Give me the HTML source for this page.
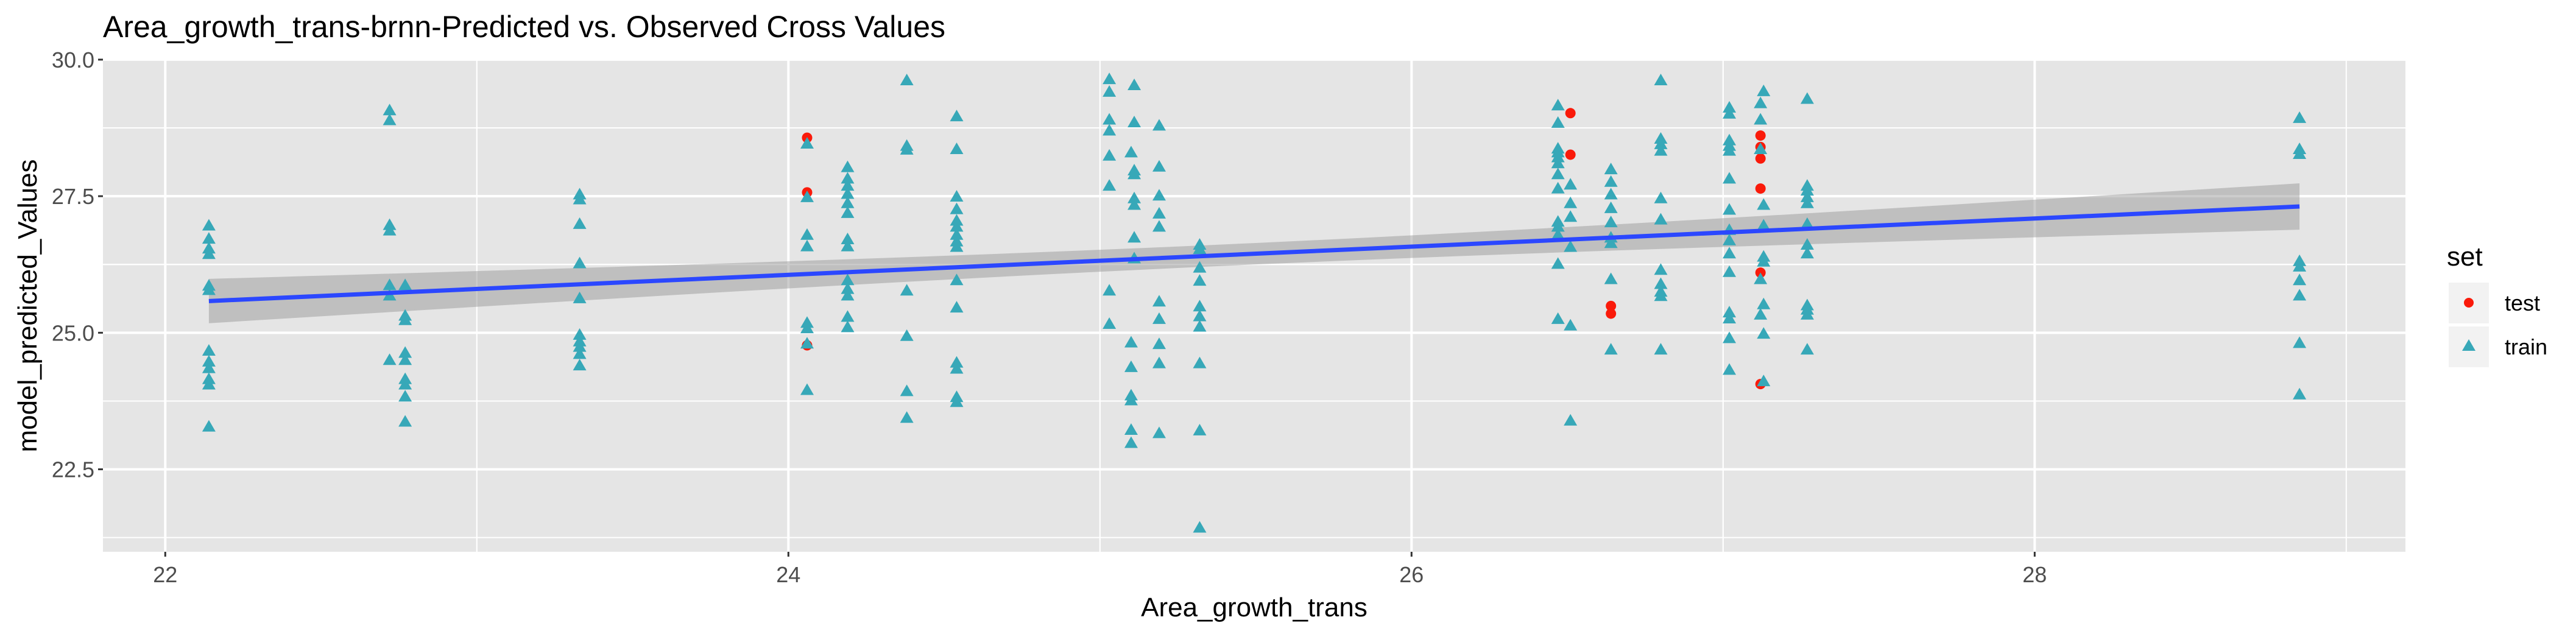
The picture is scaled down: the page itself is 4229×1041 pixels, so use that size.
<!DOCTYPE html>
<html><head><meta charset="utf-8"><style>
html,body{margin:0;padding:0;background:#fff;}
svg{display:block;font-family:"Liberation Sans",Arial,sans-serif;}
</style></head><body>
<svg id="chart" width="4229" height="1041" viewBox="0 0 4229 1041" xmlns="http://www.w3.org/2000/svg">
<text x="169" y="61" font-size="50" fill="#000">Area_growth_trans-brnn-Predicted vs. Observed Cross Values</text>
<rect x="169" y="97" width="3780" height="809" fill="#e5e5e5"/>
<g id="grid"></g>
<g id="band"></g>
<g id="pts"></g>
<g id="fit"></g>
<g id="axes"></g>
<text x="2059" y="1012" font-size="44" text-anchor="middle" fill="#000">Area_growth_trans</text>
<text transform="translate(60,502) rotate(-90)" font-size="44" text-anchor="middle" fill="#000">model_predicted_Values</text>
<g>
<text x="4017" y="436" font-size="44" fill="#000">set</text>
<rect x="4020" y="464" width="66" height="67" fill="#f2f2f2"/>
<circle cx="4053" cy="497" r="8" fill="#fa1a0a"/>
<text x="4112" y="510" font-size="36" fill="#000">test</text>
<rect x="4020" y="536" width="66" height="67" fill="#f2f2f2"/>
<polygon points="4053,557 4064,576 4042,576" fill="#37a8b8"/>
<text x="4112" y="582" font-size="36" fill="#000">train</text>
</g>
</svg>
<script>
const xTicks = [22, 24, 26, 28];
const yTicks = [22.5, 25.0, 27.5, 30.0];
const yTickLabels = ["22.5", "25.0", "27.5", "30.0"];
const fitX = [22.14, 28.85];
const fitIntercept = 25.58;
const fitSlope = 0.258;
const bandHalfAtMean = 0.196;
const bandCurv = 0.0119;
const bandMeanX = 25.4;
const testX = [24.06,24.06,24.06,26.51,26.51,26.64,26.64,27.12,27.12,27.12,27.12,27.12,27.12];
const testY = [28.57,27.57,24.77,29.02,28.26,25.49,25.35,28.61,28.40,28.19,27.64,26.10,24.06];
const trainX = [
22.14,22.14,22.14,22.14,22.14,22.14,22.14,22.14,22.14,22.14,22.14,22.14,
22.72,22.72,22.72,22.72,22.72,22.72,22.72,
22.77,22.77,22.77,22.77,22.77,22.77,22.77,22.77,22.77,
23.33,23.33,23.33,23.33,23.33,23.33,23.33,23.33,23.33,23.33,
24.06,24.06,24.06,24.06,24.06,24.06,24.06,24.06,
24.19,24.19,24.19,24.19,24.19,24.19,24.19,24.19,24.19,24.19,24.19,24.19,24.19,
24.38,24.38,24.38,24.38,24.38,24.38,24.38,
24.54,24.54,24.54,24.54,24.54,24.54,24.54,24.54,24.54,24.54,24.54,24.54,24.54,24.54,24.54,
25.03,25.03,25.03,25.03,25.03,25.03,25.03,25.03,
25.11,25.11,25.10,25.11,25.11,25.11,25.11,25.11,25.11,25.10,25.10,25.10,25.10,25.10,25.10,
25.19,25.19,25.19,25.19,25.19,25.19,25.19,25.19,25.19,25.19,
25.32,25.32,25.32,25.32,25.32,25.32,25.32,25.32,25.32,25.32,
26.47,26.47,26.47,26.47,26.47,26.47,26.47,26.47,26.47,26.47,26.47,26.47,26.47,
26.51,26.51,26.51,26.51,26.51,26.51,
26.64,26.64,26.64,26.64,26.64,26.64,26.64,26.64,26.64,
26.80,26.80,26.80,26.80,26.80,26.80,26.80,26.80,26.80,26.80,26.80,
27.02,27.02,27.02,27.02,27.02,27.02,27.02,27.02,27.02,27.02,27.02,27.02,27.02,27.02,27.02,
27.12,27.12,27.12,27.12,27.12,
27.13,27.13,27.13,27.13,27.13,27.13,27.13,27.13,
27.27,27.27,27.27,27.27,27.27,27.27,27.27,27.27,27.27,27.27,27.27,27.27,
28.85,28.85,28.85,28.85,28.85,28.85,28.85,28.85,28.85];
const trainY = [
26.96,26.72,26.54,26.44,25.86,25.78,24.67,24.47,24.35,24.15,24.05,23.28,
29.07,28.89,26.97,26.87,25.87,25.68,24.50,
25.87,25.31,25.23,24.63,24.50,24.15,24.05,23.83,23.37,
27.53,27.44,26.99,26.27,25.63,24.96,24.84,24.74,24.61,24.40,
28.46,27.48,26.79,26.58,25.18,25.08,24.80,23.95,
28.03,27.82,27.69,27.54,27.37,27.19,26.71,26.58,25.96,25.80,25.68,25.29,25.10,
29.62,28.42,28.35,25.77,24.94,23.93,23.44,
28.96,28.36,27.49,27.26,27.05,26.94,26.79,26.67,26.57,25.96,25.46,24.45,24.34,23.82,23.73,
29.64,29.41,28.90,28.70,28.24,27.69,25.77,25.16,
29.53,28.85,28.30,27.97,27.90,27.46,27.34,26.74,26.36,24.82,24.37,23.85,23.76,23.22,22.98,
28.79,28.04,27.51,27.18,26.94,25.57,25.25,24.79,24.44,23.16,
26.61,26.53,26.19,25.95,25.48,25.30,25.11,24.44,23.21,21.43,
29.16,28.84,28.37,28.30,28.21,28.10,27.90,27.64,27.03,26.94,26.79,26.26,25.25,
27.71,27.37,27.12,26.57,25.13,23.39,
27.99,27.76,27.53,27.28,27.02,26.74,26.64,25.98,24.69,
29.62,28.55,28.45,28.33,27.46,27.07,26.15,25.89,25.75,25.67,24.69,
29.12,29.01,28.52,28.42,28.33,27.82,27.25,26.88,26.69,26.45,26.11,25.37,25.26,24.90,24.32,
29.20,28.90,28.36,25.98,25.33,
29.42,27.34,26.96,26.39,26.30,25.52,24.98,24.11,
29.28,27.69,27.60,27.48,27.37,26.99,26.61,26.45,25.50,25.42,25.33,24.69,
28.93,28.36,28.27,26.31,26.21,25.96,25.68,24.81,23.87];

const NS = "http://www.w3.org/2000/svg";
const PL = 169, PR = 3949, PT = 97, PB = 906;
const X0 = 21.80, X1 = 29.19, Y0 = 20.99, Y1 = 30.01;
function sx(v){ return PL + (v - X0) / (X1 - X0) * (PR - PL); }
function sy(v){ return PB - (v - Y0) / (Y1 - Y0) * (PB - PT); }
function mk(tag, attrs, parent){
  const e = document.createElementNS(NS, tag);
  for (const k in attrs) e.setAttribute(k, attrs[k]);
  parent.appendChild(e);
  return e;
}
const grid = document.getElementById('grid');
const axes = document.getElementById('axes');
// minor grid
for (let i = 0; i < xTicks.length; i++) {
  for (const m of [xTicks[i] - 1, xTicks[i] + 1]) {
    if (m > X0 && m < X1 && !xTicks.includes(m)) {
      const l = mk('line', {x1: sx(m), x2: sx(m), y1: PT, y2: PB, stroke: '#fff', 'stroke-width': 2}, grid);
      
      
    }
  }
}
for (let i = 0; i < yTicks.length; i++) {
  for (const m of [yTicks[i] - 1.25, yTicks[i] + 1.25]) {
    if (m > Y0 && m < Y1) {
      const l = mk('line', {x1: PL, x2: PR, y1: sy(m), y2: sy(m), stroke: '#fff', 'stroke-width': 2}, grid);
      
      
    }
  }
}
for (let i = 0; i < xTicks.length; i++) {
  const x = sx(xTicks[i]);
  const l = mk('line', {x1: x, x2: x, y1: PT, y2: PB, stroke: '#fff', 'stroke-width': 4}, grid);
  
  
  const t = mk('line', {x1: x, x2: x, y1: PB, y2: PB + 8, stroke: '#333', 'stroke-width': 3}, axes);
  
  
  const tx = mk('text', {x: x, y: PB + 50, 'font-size': 36, fill: '#4d4d4d', 'text-anchor': 'middle'}, axes);
  tx.textContent = String(xTicks[i]);
  
  
}
for (let i = 0; i < yTicks.length; i++) {
  const y = sy(yTicks[i]);
  const l = mk('line', {x1: PL, x2: PR, y1: y, y2: y, stroke: '#fff', 'stroke-width': 4}, grid);
  
  
  const t = mk('line', {x1: PL - 8, x2: PL, y1: y, y2: y, stroke: '#333', 'stroke-width': 3}, axes);
  
  
  const tx = mk('text', {x: PL - 14, y: y + 13, 'font-size': 36, fill: '#4d4d4d', 'text-anchor': 'end'}, axes);
  tx.textContent = yTickLabels[i];
  
  
}
// band
const band = document.getElementById('band');
function fy(x){ return fitIntercept + fitSlope * (x - fitX[0]); }
function hw(x){ const d = x - bandMeanX; return Math.sqrt(bandHalfAtMean*bandHalfAtMean + bandCurv*d*d); }
let up = [], lo = [];
const N = 40;
for (let i = 0; i <= N; i++) {
  const x = fitX[0] + (fitX[1] - fitX[0]) * i / N;
  up.push(sx(x) + ',' + sy(fy(x) + hw(x)));
  lo.unshift(sx(x) + ',' + sy(fy(x) - hw(x)));
}
const bp = mk('polygon', {points: up.concat(lo).join(' '), fill: '#999999', 'fill-opacity': 0.5}, band);


// points
const pts = document.getElementById('pts');
for (let i = 0; i < testX.length; i++) {
  const c = mk('circle', {cx: sx(testX[i]), cy: sy(testY[i]), r: 8.5, fill: '#fa1a0a'}, pts);
  
  
}
for (let i = 0; i < trainX.length; i++) {
  const cx = sx(trainX[i]), cy = sy(trainY[i]);
  const p = mk('polygon', {points: (cx) + ',' + (cy - 11) + ' ' + (cx + 11) + ',' + (cy + 8) + ' ' + (cx - 11) + ',' + (cy + 8), fill: '#37a8b8'}, pts);
  
  
}
// fit line
const fit = document.getElementById('fit');
const fl = mk('line', {x1: sx(fitX[0]), y1: sy(fy(fitX[0])), x2: sx(fitX[1]), y2: sy(fy(fitX[1])), stroke: '#2b47ff', 'stroke-width': 7}, fit);


</script>
</body></html>
